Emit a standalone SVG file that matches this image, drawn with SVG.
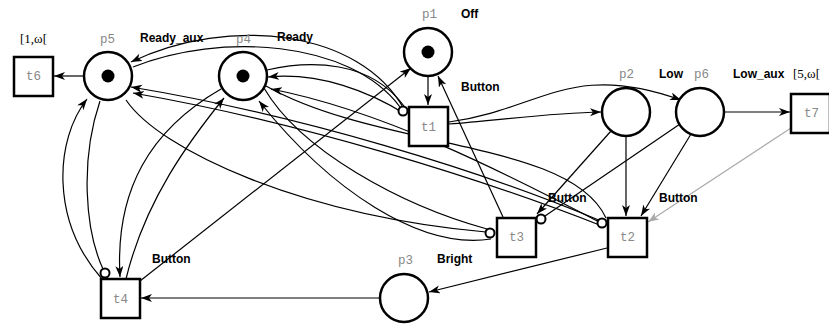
<svg xmlns="http://www.w3.org/2000/svg" width="829" height="327" viewBox="0 0 829 327">
<defs>
<marker id="ah" markerUnits="userSpaceOnUse" markerWidth="12" markerHeight="10" refX="11" refY="4" orient="auto">
<path d="M0,0 L11,4 L0,8 L3,4 z" fill="#000"/>
</marker>
<marker id="ahg" markerUnits="userSpaceOnUse" markerWidth="12" markerHeight="10" refX="11" refY="4" orient="auto">
<path d="M0,0 L11,4 L0,8 L3,4 z" fill="#aaa"/>
</marker>
<style>
.pl{fill:#fff;stroke:#000;stroke-width:2.5}
.tr{fill:#fff;stroke:#000;stroke-width:2.5}
.tok{fill:#000}
.nm{font-family:"Liberation Mono","DejaVu Sans Mono",monospace;font-size:12.5px;fill:#888}
.lb{font-family:"Liberation Sans",Arial,sans-serif;font-size:12px;font-weight:bold;fill:#000}
.iv{font-family:"Liberation Serif","Times New Roman",serif;font-size:13px;fill:#000}
.a{fill:none;stroke:#000;stroke-width:1.2}
.ar{fill:none;stroke:#000;stroke-width:1.2;marker-end:url(#ah)}
.inh{fill:#fff;stroke:#000;stroke-width:2}
</style>
</defs>
<rect width="829" height="327" fill="#fff"/>
<g id="connectors">
<path class="ar" d="M83,76 L54,76"/>
<path class="ar" d="M428,77 L428,105"/>
<path class="ar" d="M503,217 L438,76"/>
<path class="ar" d="M140,281 L411,68"/>
<path class="ar" d="M449,124 C500,120 550,113 601,112"/>
<path class="ar" d="M449,122 C540,110 570,60 681,100"/>
<path class="ar" d="M725,112 L790,112"/>
<path d="M791,128 L648,222" fill="none" stroke="#aaa" stroke-width="1.2" marker-end="url(#ahg)"/>
<path class="ar" d="M626,137 L626,216"/>
<path class="ar" d="M691,134 L641,216"/>
<path class="ar" d="M611,131 L537,214"/>
<path class="a" d="M680,124 L545,216"/>
<path class="ar" d="M607,248 L429,292"/>
<path class="ar" d="M380,298 L141,298"/>
<path class="ar" d="M404,109 C360,30 230,15 131,62"/>
<path class="a" d="M133,67 C220,32 350,40 400,107"/>
<path class="a" d="M267,70 C310,60 370,60 404,106"/>
<path class="ar" d="M405,114 C370,92 320,72 268,77"/>
<path class="ar" d="M601,221 C480,170 300,115 131,87"/>
<path class="ar" d="M602,226 C480,178 300,122 133,93"/>
<path class="ar" d="M603,224 C500,170 380,110 271,89"/>
<path class="a" d="M266,86 C380,150 570,140 606,218"/>
<path class="a" d="M126,100 C160,150 300,215 486,232"/>
<path class="a" d="M264,88 C300,150 400,205 487,229"/>
<path class="ar" d="M491,239 C420,250 330,190 259,101"/>
<path class="ar" d="M102,279 C50,220 55,140 87,99"/>
<path class="a" d="M100,101 C80,160 85,230 103,269"/>
<path class="ar" d="M221,89 C150,130 115,190 120,277"/>
<path class="ar" d="M126,279 C145,200 190,140 224,98"/>
<circle class="inh" cx="403" cy="111" r="4.5"/>
<circle class="inh" cx="490" cy="233" r="4.5"/>
<circle class="inh" cx="541" cy="219" r="4.5"/>
<circle class="inh" cx="602" cy="223" r="4.5"/>
<circle class="inh" cx="105" cy="273" r="4.5"/>
</g>
<g id="p5"><circle class="pl" cx="108" cy="76" r="24"/><circle class="tok" cx="108" cy="76" r="6.5"/><text class="nm" x="100" y="43">p5</text><text class="lb" x="140" y="42">Ready_aux</text></g>
<g id="p4"><circle class="pl" cx="243" cy="76" r="24"/><circle class="tok" cx="243" cy="76" r="6.5"/><text class="nm" x="236" y="43">p4</text><text class="lb" x="277" y="41">Ready</text></g>
<g id="p1"><circle class="pl" cx="428" cy="52" r="24"/><circle class="tok" cx="428" cy="52" r="6.5"/><text class="nm" x="422" y="18">p1</text><text class="lb" x="461" y="18">Off</text></g>
<g id="p2"><circle class="pl" cx="626" cy="112" r="24"/><text class="nm" x="619" y="78">p2</text><text class="lb" x="659" y="78">Low</text></g>
<g id="p6"><circle class="pl" cx="700" cy="112" r="24"/><text class="nm" x="694" y="78">p6</text><text class="lb" x="733" y="78">Low_aux</text></g>
<g id="p3"><circle class="pl" cx="404" cy="298" r="24"/><text class="nm" x="398" y="264">p3</text><text class="lb" x="437" y="263">Bright</text></g>
<g id="t6"><rect class="tr" x="14" y="57" width="39" height="39"/><text class="nm" x="26" y="80">t6</text><text class="iv" x="20" y="43">[1,ω[</text></g>
<g id="t1"><rect class="tr" x="409" y="107" width="39" height="39"/><text class="nm" x="421" y="131">t1</text><text class="lb" x="461" y="91">Button</text></g>
<g id="t7"><rect class="tr" x="791" y="94" width="39" height="39"/><text class="nm" x="804" y="117">t7</text><text class="iv" x="793" y="78">[5,ω[</text></g>
<g id="t3"><rect class="tr" x="497" y="218" width="39" height="39"/><text class="nm" x="509" y="241">t3</text><text class="lb" x="548" y="202">Button</text></g>
<g id="t2"><rect class="tr" x="608" y="218" width="39" height="39"/><text class="nm" x="620" y="241">t2</text><text class="lb" x="659" y="202">Button</text></g>
<g id="t4"><rect class="tr" x="101" y="279" width="39" height="39"/><text class="nm" x="113" y="303">t4</text><text class="lb" x="152" y="263">Button</text></g>
</svg>
